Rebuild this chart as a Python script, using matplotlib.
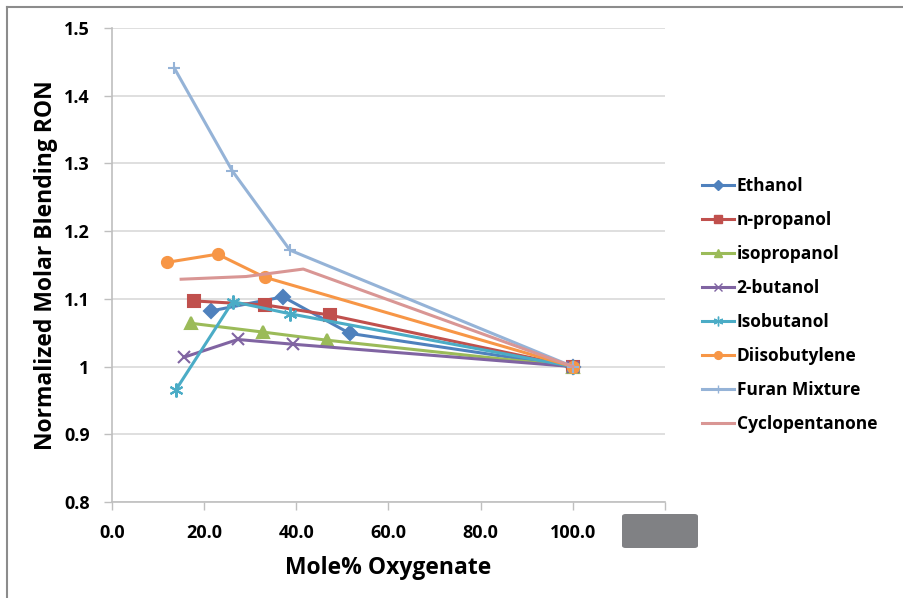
import matplotlib.pyplot as plt
from matplotlib.patches import FancyBboxPatch
from matplotlib.lines import Line2D

plt.rcParams['font.family'] = ['Open Sans', 'DejaVu Sans']
plt.rcParams['font.weight'] = 'bold'

# mole% oxygenate vs normalized molar blending RON
ethanol_x = [21.4, 37.1, 51.6, 100.0]
ethanol_y = [1.082, 1.103, 1.049, 1.0]
npropanol_x = [17.7, 33.3, 47.3, 100.0]
npropanol_y = [1.097, 1.091, 1.076, 1.0]
isopropanol_x = [17.1, 32.7, 46.6, 100.0]
isopropanol_y = [1.064, 1.051, 1.039, 1.0]
butanol2_x = [15.7, 27.3, 39.3, 100.0]
butanol2_y = [1.014, 1.040, 1.033, 1.0]
isobutanol_x = [13.9, 26.2, 38.6, 100.0]
isobutanol_y = [0.966, 1.096, 1.078, 1.0]
diisobutylene_x = [12.0, 22.9, 33.1, 100.0]
diisobutylene_y = [1.154, 1.166, 1.132, 1.0]
furan_x = [13.5, 26.1, 38.6, 100.0]
furan_y = [1.441, 1.289, 1.172, 1.0]
cyclopentanone_x = [15.0, 29.1, 41.5, 100.0]
cyclopentanone_y = [1.129, 1.133, 1.144, 1.0]

series = [
    ('Ethanol', ethanol_x, ethanol_y, '#4F81BD', 'D', 7),
    ('n-propanol', npropanol_x, npropanol_y, '#C0504D', 's', 8),
    ('isopropanol', isopropanol_x, isopropanol_y, '#9BBB59', '^', 8),
    ('2-butanol', butanol2_x, butanol2_y, '#8064A2', 'x', 9),
    ('Isobutanol', isobutanol_x, isobutanol_y, '#4BACC6', (6, 2, 0), 10),
    ('Diisobutylene', diisobutylene_x, diisobutylene_y, '#F79646', 'o', 8),
    ('Furan Mixture', furan_x, furan_y, '#95B3D7', '+', 9),
    ('Cyclopentanone', cyclopentanone_x, cyclopentanone_y, '#D99694', 'None', 0),
]

fig = plt.figure(figsize=(9.04, 5.98), dpi=100)
ax = fig.add_axes([0.1239, 0.1605, 0.6117, 0.7927])

handles = []
for name, xs, ys, col, mk, ms in series:
    ax.plot(xs, ys, color=col, lw=2.2, marker=mk, markersize=ms,
            markeredgewidth=1.5, markeredgecolor=col, markerfacecolor=col)
    handles.append(Line2D([], [], color=col, lw=2.2, marker=mk,
                          markersize=ms * 0.7, markeredgewidth=1.0,
                          markeredgecolor=col, markerfacecolor=col, label=name))

ax.set_xlim(0, 120)
ax.set_ylim(0.8, 1.5)
ax.set_xticks([0, 20, 40, 60, 80, 100, 120])
ax.set_xticklabels(['0.0', '20.0', '40.0', '60.0', '80.0', '100.0', ''])
ax.set_yticks([0.8, 0.9, 1.0, 1.1, 1.2, 1.3, 1.4, 1.5])
ax.set_yticklabels(['0.8', '0.9', '1', '1.1', '1.2', '1.3', '1.4', '1.5'])
ax.tick_params(labelsize=13, length=6, color='#BFBFBF', width=1)
ax.tick_params(axis='y', pad=10)
ax.tick_params(axis='x', pad=10)
ax.grid(axis='y', color='#D9D9D9', lw=1.2)
ax.set_axisbelow(True)
for s in ['top', 'right']:
    ax.spines[s].set_visible(False)
for s in ['left', 'bottom']:
    ax.spines[s].set_color('#BFBFBF')
    ax.spines[s].set_linewidth(1.2)

ax.set_xlabel('Mole% Oxygenate', fontsize=16.5, fontweight='bold', labelpad=10)
ax.set_ylabel('Normalized Molar Blending RON', fontsize=16.5, fontweight='bold', labelpad=4)

ax.legend(handles=handles, loc='upper left', bbox_to_anchor=(1.054, 0.70),
          frameon=False, fontsize=12.5, handlelength=1.85, handletextpad=0.15,
          labelspacing=0.92, borderaxespad=0)

# grey box covering the last x tick label
fig.patches.append(FancyBboxPatch((622 / 904, 1 - 548 / 598), 76 / 904, 34 / 598,
                                  boxstyle='round,pad=0,rounding_size=0.004',
                                  transform=fig.transFigure, facecolor='#808184',
                                  edgecolor='none'))

# outer frame lines (top and left)
fig.add_artist(Line2D([7 / 904, 1], [1 - 7 / 598, 1 - 7 / 598], color='#8C8C8C', lw=1.5,
                      transform=fig.transFigure))
fig.add_artist(Line2D([7 / 904, 7 / 904], [0, 1 - 7 / 598], color='#8C8C8C', lw=1.5,
                      transform=fig.transFigure))

fig.savefig('out.png', dpi=100)
